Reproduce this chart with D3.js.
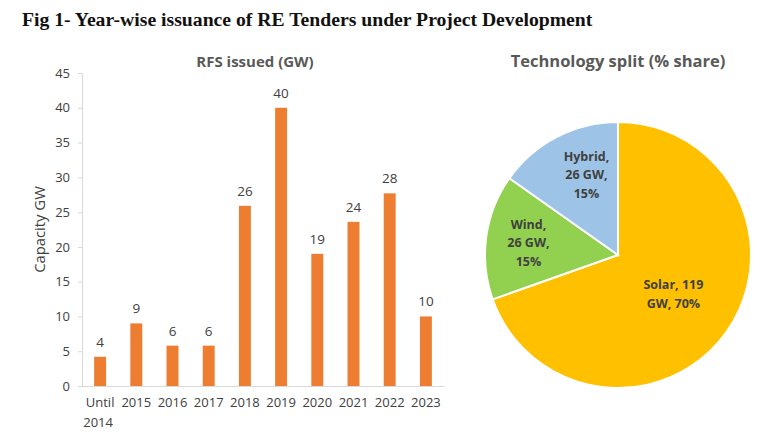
<!DOCTYPE html>
<html lang="en">
  <head>
    <meta charset="utf-8" />
    <title>RE Tenders</title>
    <script src="https://cdn.jsdelivr.net/npm/d3@7"></script>
    <style>
      body { margin: 0; background: #fff; }
      svg { display: block; }
    </style>
  </head>
  <body>
    <script>
      var years = ["Until 2014", "2015", "2016", "2017", "2018", "2019", "2020", "2021", "2022", "2023"];
      var capacity = [4.2, 9.0, 5.8, 5.8, 25.9, 40.0, 19.0, 23.6, 27.7, 10.0];
      var yTicks = [0, 5, 10, 15, 20, 25, 30, 35, 40, 45];

      var techs = ["Solar", "Wind", "Hybrid"];
      var techGW = [119, 26, 26];
      var techColors = ["#FFC000", "#92D050", "#9DC3E6"];

      var w = 781, h = 448;
      var font = "'Open Sans', Lato, sans-serif";

      var svg = d3.select("body").append("svg")
        .attr("width", w)
        .attr("height", h);

      svg.append("text")
        .attr("x", 22)
        .attr("y", 26)
        .attr("font-family", "'Liberation Serif', serif")
        .attr("font-weight", "bold")
        .attr("font-size", "19.7px")
        .attr("fill", "#111")
        .text("Fig 1- Year-wise issuance of RE Tenders under Project Development");

      // ---- bar chart ----
      var plotL = 82, plotR = 444, plotT = 73, plotB = 386;

      var xScale = d3.scaleBand()
        .domain(years)
        .range([plotL, plotR])
        .paddingInner(0.67)
        .paddingOuter(0.335);

      var yScale = d3.scaleLinear()
        .domain([0, 45])
        .range([plotB, plotT]);

      svg.append("text")
        .attr("x", 255)
        .attr("y", 67)
        .attr("text-anchor", "middle")
        .attr("font-family", font)
        .attr("font-weight", "bold")
        .attr("font-size", "15px")
        .attr("fill", "#595959")
        .text("RFS issued (GW)");

      var yAxis = svg.append("g")
        .attr("transform", "translate(" + plotL + ",0)")
        .call(d3.axisLeft(yScale).tickValues(yTicks).tickSize(4).tickPadding(8));
      yAxis.select(".domain").attr("stroke", "#d9d9d9");
      yAxis.selectAll(".tick line").attr("stroke", "#d9d9d9");
      yAxis.selectAll(".tick text")
        .attr("font-family", font)
        .attr("font-size", "13px")
        .attr("fill", "#404040");

      var xAxis = svg.append("g")
        .attr("transform", "translate(0," + plotB + ")")
        .call(d3.axisBottom(xScale).tickSize(0).tickPadding(12));
      xAxis.select(".domain").attr("stroke", "#d9d9d9");
      xAxis.selectAll(".tick text")
        .attr("font-family", font)
        .attr("font-size", "13px")
        .attr("fill", "#404040")
        .each(function (d) {
          var parts = d.split(" ");
          if (parts.length > 1) {
            var t = d3.select(this).text(null);
            t.append("tspan").attr("x", 0).attr("dy", "0.71em").text(parts[0]);
            t.append("tspan").attr("x", -2).attr("dy", "1.5em").text(parts[1]);
            t.attr("dy", null);
          }
        });

      svg.append("text")
        .attr("transform", "translate(45," + yScale(22.5) + ") rotate(-90)")
        .attr("text-anchor", "middle")
        .attr("font-family", font)
        .attr("font-size", "14.8px")
        .attr("fill", "#404040")
        .text("Capacity GW");

      svg.selectAll("rect.bar")
        .data(capacity)
        .enter()
        .append("rect")
        .attr("class", "bar")
        .attr("x", function (d, i) { return xScale(years[i]); })
        .attr("y", function (d) { return yScale(d); })
        .attr("width", xScale.bandwidth())
        .attr("height", function (d) { return plotB - yScale(d); })
        .attr("fill", "#ED7D31");

      svg.selectAll("text.val")
        .data(capacity)
        .enter()
        .append("text")
        .attr("class", "val")
        .attr("x", function (d, i) { return xScale(years[i]) + xScale.bandwidth() / 2; })
        .attr("y", function (d) { return yScale(d) - 10; })
        .attr("text-anchor", "middle")
        .attr("font-family", font)
        .attr("font-size", "13.5px")
        .attr("fill", "#404040")
        .text(function (d) { return d3.format(".0f")(d); });

      // ---- pie ----
      var cx = 618, cy = 255, R = 133;
      var total = d3.sum(techGW);

      svg.append("text")
        .attr("x", cx)
        .attr("y", 67)
        .attr("text-anchor", "middle")
        .attr("font-family", font)
        .attr("font-weight", "bold")
        .attr("font-size", "16.5px")
        .attr("fill", "#595959")
        .text("Technology split (% share)");

      var pie = d3.pie().sort(null).value(function (d) { return d; });
      var arcs = pie(techGW);
      var arc = d3.arc().innerRadius(0).outerRadius(R);

      var pg = svg.append("g").attr("transform", "translate(" + cx + "," + cy + ")");

      pg.selectAll("path")
        .data(arcs)
        .enter()
        .append("path")
        .attr("d", arc)
        .attr("fill", function (d, i) { return techColors[i]; })
        .attr("stroke", "#fff")
        .attr("stroke-width", 2);

      pg.selectAll("text.lab")
        .data(arcs)
        .enter()
        .append("text")
        .attr("class", "lab")
        .attr("text-anchor", "middle")
        .attr("font-family", font)
        .attr("font-weight", "bold")
        .attr("font-size", "12.5px")
        .attr("fill", "#404040")
        .each(function (d, i) {
          var share = d.data / total;
          var r = share > 0.5 ? R * 0.51 : R * 0.68;
          var c = d3.arc().innerRadius(r).outerRadius(r).centroid(d);
          // the last slice sits against the top; Excel pulls its label in towards 12 o'clock
          if (i === arcs.length - 1) c[0] += 10;
          var words = (techs[i] + ", " + d.data + " GW, " + Math.round(share * 100) + "%").split(" ");
          var maxW = share > 0.5 ? 85 : 50;
          var t = d3.select(this);
          var lines = [], cur = words[0];
          var probe = t.append("tspan");
          for (var k = 1; k < words.length; k++) {
            probe.text(cur + " " + words[k]);
            if (probe.node().getComputedTextLength() > maxW) {
              lines.push(cur);
              cur = words[k];
            } else {
              cur = cur + " " + words[k];
            }
          }
          lines.push(cur);
          probe.remove();
          var lh = 18.5;
          var y0 = c[1] - (lines.length - 1) * lh / 2 + 4.5;
          lines.forEach(function (ln, j) {
            t.append("tspan").attr("x", c[0]).attr("y", y0 + j * lh).text(ln);
          });
        });
    </script>
  </body>
</html>
